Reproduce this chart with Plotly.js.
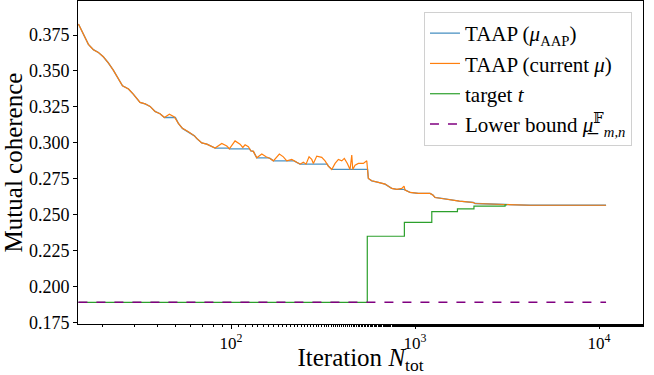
<!DOCTYPE html>
<html>
<head>
<meta charset="utf-8">
<script src="https://cdn.plot.ly/plotly-3.0.1.min.js"></script>
<style>html,body{margin:0;padding:0;background:#fff;}#chart{width:654px;height:375px;}</style>
</head>
<body>
<div id="chart"></div>
<script>
// TAAP current mu (orange)
const curN = [14.8,15.75,16.77,17.85,19.0,20.2,21.5,22.9,24.4,25.7,27.7,29.4,32.0,34.1,36.3,38.6,41.1,43.4,46.2,49.2,51.7,54.4,58.6,63.2,65.1,69.3,73.8,76.9,81.9,89.0,94.8,97.9,105.1,111.9,115.8,119.2,124.2,128.0,132.2,137.9,146.9,155.0,162.9,169.8,183.0,192.4,200.8,213.8,227.6,237.1,247.1,255.6,265.4,274.5,280.1,292.3,311.1,324.3,337.9,352.6,367.6,383.1,399.6,412.8,428.6,443.3,452.9,458.6,472.0,491.9,523.6,546.5,557.5,581.7,631.8,645.2,687.1,747.1,795.3,846.8,871.4,882.5,939.3,1042,1206,1248,1284,1397,1616,1741,2074,2119,3084,4217,10920];
const curMu = [0.3827,0.3750,0.3685,0.3648,0.3629,0.3599,0.3557,0.3506,0.3448,0.3397,0.3374,0.3339,0.3281,0.3271,0.3253,0.3218,0.3202,0.3176,0.3199,0.3179,0.3135,0.3100,0.3076,0.3048,0.3030,0.2999,0.2990,0.2981,0.2963,0.2995,0.2977,0.2958,0.3013,0.2990,0.2967,0.2986,0.2972,0.2944,0.2940,0.2895,0.2921,0.2902,0.2891,0.2874,0.2921,0.2902,0.2874,0.2884,0.2863,0.2851,0.2865,0.2851,0.2902,0.2884,0.2856,0.2907,0.2898,0.2874,0.2837,0.2814,0.2856,0.2884,0.2874,0.2891,0.2856,0.2814,0.2914,0.2814,0.2844,0.2856,0.2856,0.2874,0.2751,0.2735,0.2724,0.2721,0.2712,0.2682,0.2675,0.2682,0.2698,0.2670,0.2654,0.2647,0.2647,0.2637,0.2619,0.2612,0.2600,0.2593,0.2584,0.2577,0.2570,0.2565,0.2565];
// TAAP mu_AAP (blue, best so far)
const aapN = [14.8,15.75,16.77,17.85,19.0,20.2,21.5,22.9,24.4,25.7,27.7,29.4,32.0,34.1,36.3,38.6,41.1,43.4,49.8,51.7,54.4,58.6,63.2,65.1,69.3,73.8,76.9,81.9,97.0,97.9,126.0,128.0,132.2,137.9,160.0,162.9,169.8,220.0,227.6,237.1,333.0,337.9,352.6,552.0,557.5,581.7,631.8,645.2,687.1,747.1,795.3,870.0,882.5,939.3,1042,1206,1248,1284,1397,1616,1741,2074,2119,3084,4217,10920];
const aapMu = [0.3827,0.3750,0.3685,0.3648,0.3629,0.3599,0.3557,0.3506,0.3448,0.3397,0.3374,0.3339,0.3281,0.3271,0.3253,0.3218,0.3202,0.3176,0.3176,0.3135,0.3100,0.3076,0.3048,0.3030,0.2999,0.2990,0.2981,0.2963,0.2963,0.2958,0.2958,0.2944,0.2940,0.2895,0.2895,0.2891,0.2874,0.2874,0.2863,0.2851,0.2851,0.2837,0.2814,0.2814,0.2751,0.2735,0.2724,0.2721,0.2712,0.2682,0.2675,0.2675,0.2670,0.2654,0.2647,0.2647,0.2637,0.2619,0.2612,0.2600,0.2593,0.2584,0.2577,0.2570,0.2565,0.2565];
// target t (green, steps)
const tgtN = [14.8,550,875,1233,1700,2090,3085,3150];
const tgtT = [0.1889,0.2349,0.2445,0.2520,0.2540,0.2559,0.2568,0.2568];
// lower bound (purple dashed)
const lbN = [14.8,10920];
const lbMu = [0.1889,0.1889];

const yTicks = [0.175,0.200,0.225,0.250,0.275,0.300,0.325,0.350,0.375];
const xTicks = [100,1000,10000];
const xTickText = ['10<sup>2</sup>','10<sup>3</sup>','10<sup>4</sup>'];

const FONT = 'Liberation Serif, DejaVu Serif, serif';

const traces = [
  {x: aapN, y: aapMu, mode:'lines', name:'TAAP (<i>μ</i><sub>AAP</sub>)', line:{color:'#1f77b4', width:1.3}, opacity:0.8},
  {x: curN, y: curMu, mode:'lines', name:'TAAP (current <i>μ</i>)', line:{color:'#ff7f0e', width:1.2}},
  {x: tgtN, y: tgtT, mode:'lines', name:'target <i>t</i>', line:{color:'#2ca02c', width:1.2, shape:'hv'}},
  {x: lbN, y: lbMu, mode:'lines', name:'Lower bound <i>μ\u0332</i><sup>𝔽</sup><sub><i>m,n</i></sub>', line:{color:'#800080', width:1.5, dash:'dash'}}
];

const layout = {
  width:654, height:375,
  margin:{l:78, r:11, t:1, b:51},
  paper_bgcolor:'#fff', plot_bgcolor:'#fff',
  font:{family:FONT, size:18, color:'#000'},
  showlegend:true,
  legend:{x:0.9805, xanchor:'right', y:0.966, yanchor:'top', bgcolor:'rgba(255,255,255,0.8)', bordercolor:'#d0d0d0', borderwidth:1, font:{family:FONT, size:21, color:'#000'}},
  xaxis:{type:'log', range:[1.168,4.239], showline:true, mirror:true, linecolor:'#000', linewidth:1,
    ticks:'outside', ticklen:4, tickcolor:'#000', tickvals:xTicks, ticktext:xTickText, showgrid:false, zeroline:false,
    minor:{ticks:'outside', ticklen:2, tickcolor:'#000', showgrid:false},
    tickfont:{family:FONT, size:17},
    title:{text:'Iteration <i>N</i><sub>tot</sub>', font:{family:FONT, size:25}, standoff:4}},
  yaxis:{range:[0.1738,0.3987], showline:true, mirror:true, linecolor:'#000', linewidth:1,
    ticks:'outside', ticklen:4, tickcolor:'#000', tickvals:yTicks, tickformat:'.3f', showgrid:false, zeroline:false,
    tickfont:{family:FONT, size:18},
    title:{text:'Mutual coherence', font:{family:FONT, size:25}, standoff:6}}
};

Plotly.newPlot('chart', traces, layout, {displayModeBar:false, staticPlot:true});
</script>
</body>
</html>
